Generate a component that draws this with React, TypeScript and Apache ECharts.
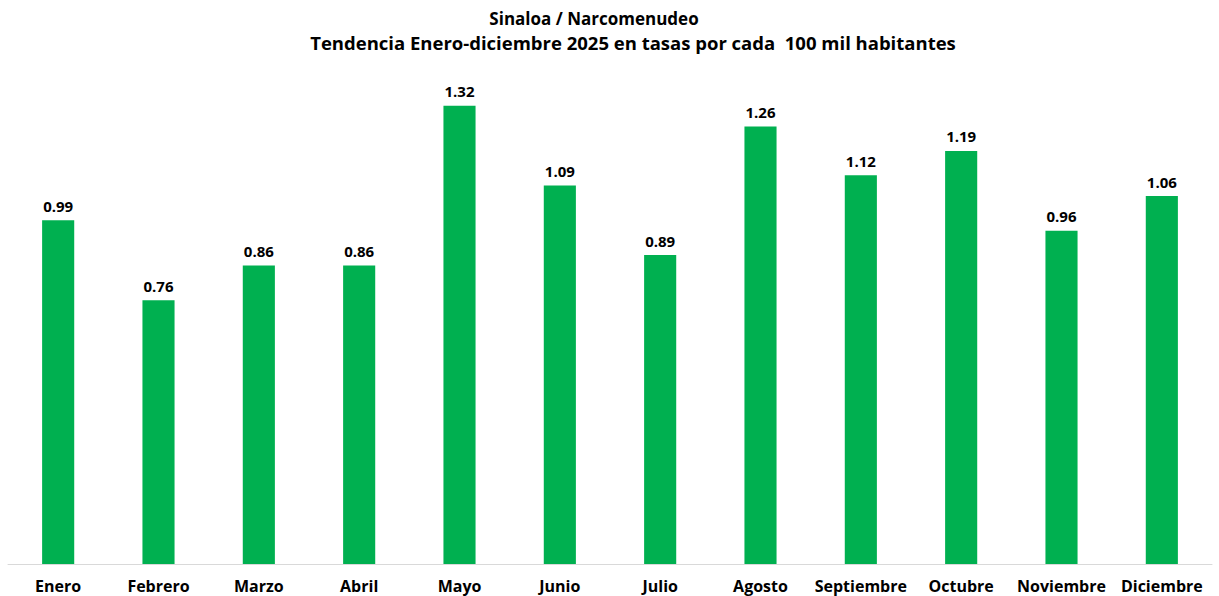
import React, { useEffect, useRef } from "react";
import * as echarts from "echarts";

const months = ["Enero", "Febrero", "Marzo", "Abril", "Mayo", "Junio", "Julio", "Agosto", "Septiembre", "Octubre", "Noviembre", "Diciembre"];
const rates = [0.99, 0.76, 0.86, 0.86, 1.32, 1.09, 0.89, 1.26, 1.12, 1.19, 0.96, 1.06];
const titleLine1 = "Sinaloa / Narcomenudeo";
const titleLine2 = "Tendencia Enero-diciembre 2025 en tasas por cada  100 mil habitantes";

const FONT = "'Open Sans', Lato, sans-serif";

export default function App() {
  const ref = useRef<HTMLDivElement>(null);
  useEffect(() => {
    if (!ref.current) return;
    const chart = echarts.init(ref.current, null, { renderer: "svg" });
    chart.setOption({
      animation: false,
      backgroundColor: "#ffffff",
      textStyle: { fontFamily: FONT },
      graphic: [
        { type: "text", x: 594, y: 18, style: { text: titleLine1, fontFamily: FONT, fontWeight: "bold", fontSize: 17, fill: "#000", align: "center", verticalAlign: "middle" } },
        { type: "text", x: 633, y: 42, style: { text: titleLine2, fontFamily: FONT, fontWeight: "bold", fontSize: 18.5, fill: "#000", align: "center", verticalAlign: "middle" } },
      ],
      grid: { left: 8, right: 7, top: 78, bottom: 32, containLabel: false },
      xAxis: {
        type: "category",
        data: months,
        axisLine: { show: true, lineStyle: { color: "#d9d9d9", width: 1 } },
        axisTick: { show: false },
        axisLabel: { interval: 0, fontFamily: FONT, fontWeight: "bold", fontSize: 16, lineHeight: 18, color: "#000", margin: 13 },
      },
      yAxis: {
        type: "value",
        min: 0,
        max: 1.4,
        show: false,
        splitLine: { show: false },
      },
      series: [
        {
          type: "bar",
          data: rates,
          barWidth: "32%",
          itemStyle: { color: "#00B050" },
          label: {
            show: true,
            position: "top",
            distance: 7,
            formatter: (p: any) => p.value.toFixed(2),
            fontFamily: FONT,
            fontWeight: "bold",
            fontSize: 15,
            color: "#000",
          },
        },
      ],
    });
    return () => chart.dispose();
  }, []);
  return <div ref={ref} style={{ width: 1219, height: 596, position: "absolute", left: 0, top: 0 }} />;
}
